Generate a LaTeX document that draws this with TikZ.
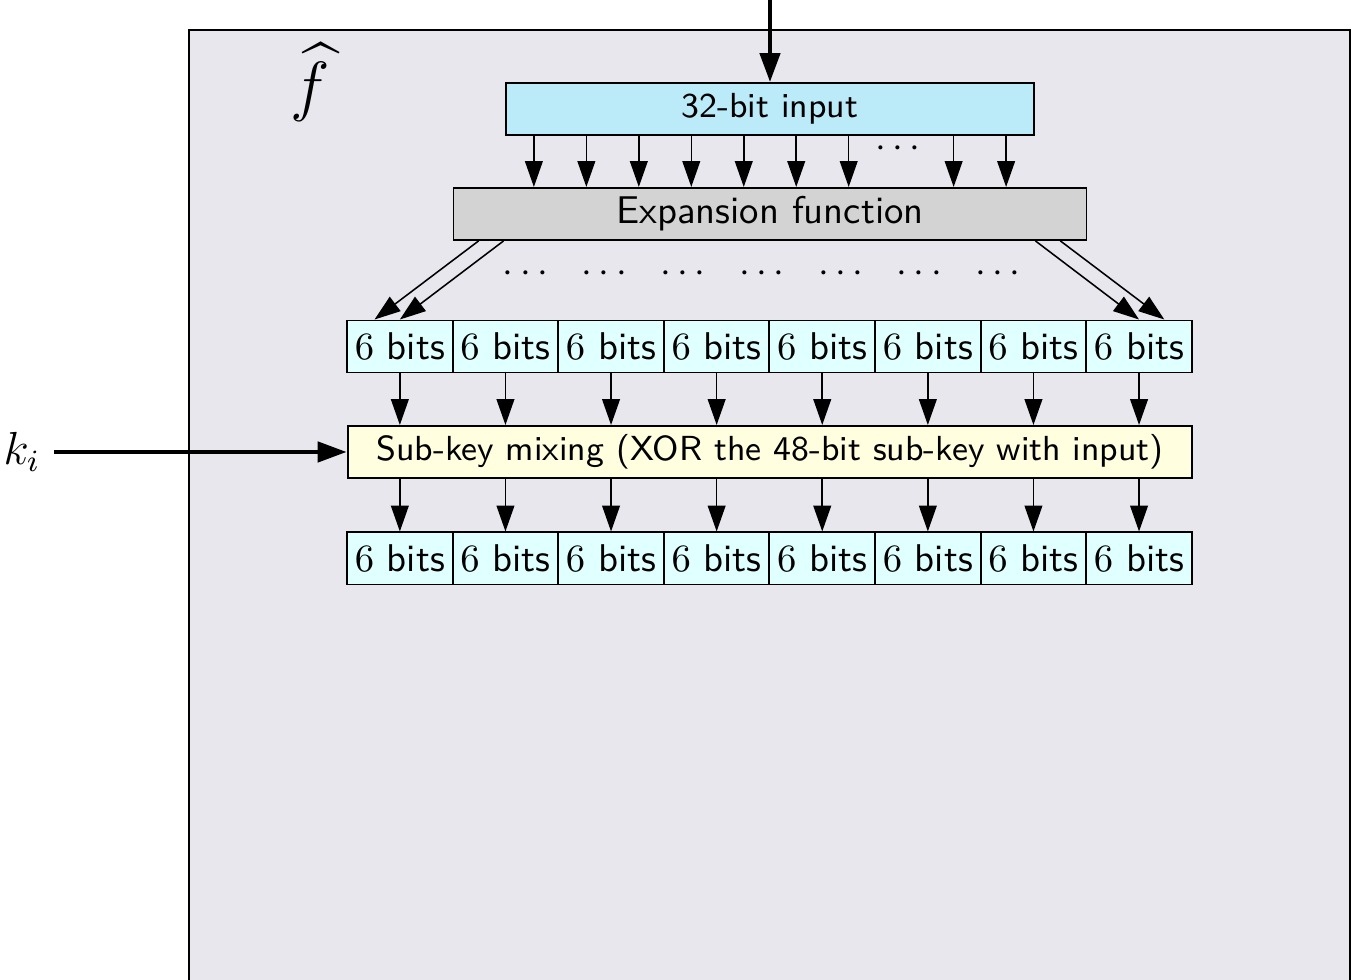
\documentclass[tikz,border=0pt]{standalone}
\usepackage{amsmath,amssymb}
\usepackage{tikz}
\usetikzlibrary{arrows.meta, calc, positioning}
\definecolor{roundbg}{RGB}{233,231,238}
\definecolor{inputblue}{RGB}{187,234,248}
\definecolor{expgray}{RGB}{211,211,211}
\definecolor{bitcyan}{RGB}{224,255,255}
\definecolor{mixyellow}{RGB}{255,255,224}

\begin{document}
\begin{tikzpicture}[scale=1.0,>=Stealth,
  bitarrow/.style={-{Triangle[length=6.7pt,width=4.6pt]},line width=0.4pt},
  bigarrow/.style={-{Triangle[length=7.5pt,width=5.2pt]},line width=1.1pt},
  block/.style={draw,line width=0.5pt,font=\sffamily,inner sep=1pt,minimum height=0.473cm},
  bitcell/.style={block,fill=bitcyan,minimum width=0.96cm}]
  \useasboundingbox (0,0) rectangle (12.282,8.909);
  % frame of the round function
  \draw[fill=roundbg,line width=0.6pt] (1.718,8.636) rectangle (12.27,-0.2);
  \node[font=\LARGE] (fhat) at (2.82,8.16) {$\widehat{f}$};
  % 32-bit input and expansion
  \node[block,fill=inputblue,minimum width=4.8cm,font=\sffamily\small] (input) at (7,7.918) {32-bit input};
  \node[block,fill=expgray,minimum width=5.755cm] (expand) at (7,6.964) {Expansion function};
  \coordinate (top) at (7,9.2);
  \draw[bigarrow] (top) -- (input);
  \foreach \k in {0,...,9}
    \coordinate (s\k) at ({7+(\k-4.5)*0.477},0);
  \foreach \k in {0,...,6,8,9}
    \draw[bitarrow] (input.south -| s\k) -- (expand.north -| s\k);
  \node (idots) at ($(input.south -| s7)+(0,-0.12)$) {$\cdots$};
  % the 48 expanded bits
  \foreach \i in {1,...,8}{
    \node[bitcell] (a\i) at ({3.635+(\i-1)*0.96},5.759) {$6$ bits};
    \node[bitcell] (b\i) at ({3.635+(\i-1)*0.96},3.832) {$6$ bits};
  }
  \node[block,fill=mixyellow,minimum width=7.68cm,font=\sffamily\small] (mix) at (7,4.8)
    {Sub-key mixing (XOR the 48-bit sub-key with input)};
  \foreach \i in {1,...,8}{
    \draw[bitarrow] (a\i) -- (mix.north -| a\i);
    \draw[bitarrow] (mix.south -| b\i) -- (b\i);
  }
  % expansion fans out
  \draw[bitarrow] ([xshift=0.237cm]expand.south west) -- ([xshift=-0.23cm]a1.north);
  \draw[bitarrow] ([xshift=0.464cm]expand.south west) -- (a1.north);
  \draw[bitarrow] ([xshift=-0.473cm]expand.south east) -- (a8.north);
  \draw[bitarrow] ([xshift=-0.246cm]expand.south east) -- ([xshift=0.23cm]a8.north);
  \foreach \j in {0,...,6}
    \node (edots\j) at ({6.955+(\j-3)*0.716},6.42) {$\cdots$};
  % sub-key
  \node[font=\large] (key) at (0.2,4.8) {$k_i$};
  \draw[bigarrow] (key) -- (mix);
\end{tikzpicture}
\end{document}
